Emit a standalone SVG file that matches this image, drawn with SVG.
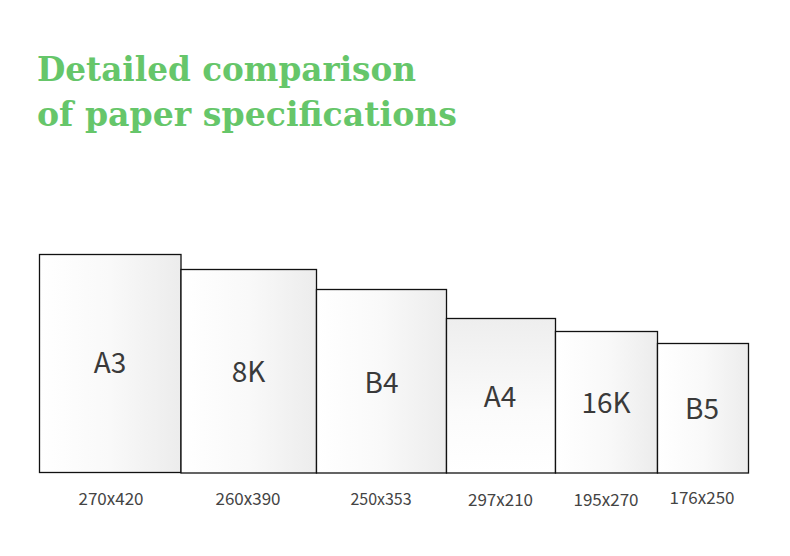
<svg xmlns="http://www.w3.org/2000/svg" width="790" height="556" viewBox="0 0 790 556">
<defs>
<linearGradient id="gh" x1="0" y1="0" x2="1" y2="0">
<stop offset="0" stop-color="#ffffff"/>
<stop offset="0.5" stop-color="#f9f9f9"/>
<stop offset="1" stop-color="#ececec"/>
</linearGradient>
<linearGradient id="gv" x1="0" y1="0" x2="0" y2="1">
<stop offset="0" stop-color="#eeeeee"/>
<stop offset="0.6" stop-color="#fbfbfb"/>
<stop offset="1" stop-color="#ffffff"/>
</linearGradient>
</defs>
<style>
.title{font-family:"DejaVu Serif","Liberation Serif",serif;font-weight:bold;font-size:33px;fill:#66c66a}
.sheet{stroke:#111;stroke-width:1.3}
.name{font-family:"Noto Sans CJK SC","Noto Sans",sans-serif;font-size:28px;fill:#3a3a3a;text-anchor:middle}
.size{font-family:"Noto Sans CJK SC","Noto Sans",sans-serif;font-size:17px;fill:#444;text-anchor:middle}
</style>
<rect width="790" height="556" fill="#ffffff"/>
<g id="title">
<text class="title" x="37" y="81" textLength="379" lengthAdjust="spacingAndGlyphs">Detailed comparison</text>
<text class="title" x="37" y="126" textLength="420" lengthAdjust="spacingAndGlyphs">of paper specifications</text>
</g>
<g id="a3">
<rect class="sheet" x="39.5" y="254.5" width="141.5" height="218" fill="url(#gh)"/>
<text class="name" x="110" y="373">A3</text>
<text class="size" x="111" y="505">270x420</text>
</g>
<g id="k8">
<rect class="sheet" x="181" y="269.5" width="135.5" height="203.5" fill="url(#gh)"/>
<text class="name" x="248.5" y="382">8K</text>
<text class="size" x="248" y="505">260x390</text>
</g>
<g id="b4">
<rect class="sheet" x="316.5" y="289.5" width="130" height="183.5" fill="url(#gh)"/>
<text class="name" x="381.5" y="393">B4</text>
<text class="size" x="381" y="505" style="font-size:16px">250x353</text>
</g>
<g id="a4">
<rect class="sheet" x="446.5" y="318.5" width="109" height="154.5" fill="url(#gv)"/>
<text class="name" x="500" y="407">A4</text>
<text class="size" x="500.5" y="506">297x210</text>
</g>
<g id="k16">
<rect class="sheet" x="555.5" y="331.5" width="102" height="141.5" fill="url(#gh)"/>
<text class="name" x="606" y="413">16K</text>
<text class="size" x="606" y="506">195x270</text>
</g>
<g id="b5">
<rect class="sheet" x="657.5" y="343.5" width="91" height="129.5" fill="url(#gh)"/>
<text class="name" x="702" y="419">B5</text>
<text class="size" x="702" y="504">176x250</text>
</g>
<g id="connectors"/>
</svg>
